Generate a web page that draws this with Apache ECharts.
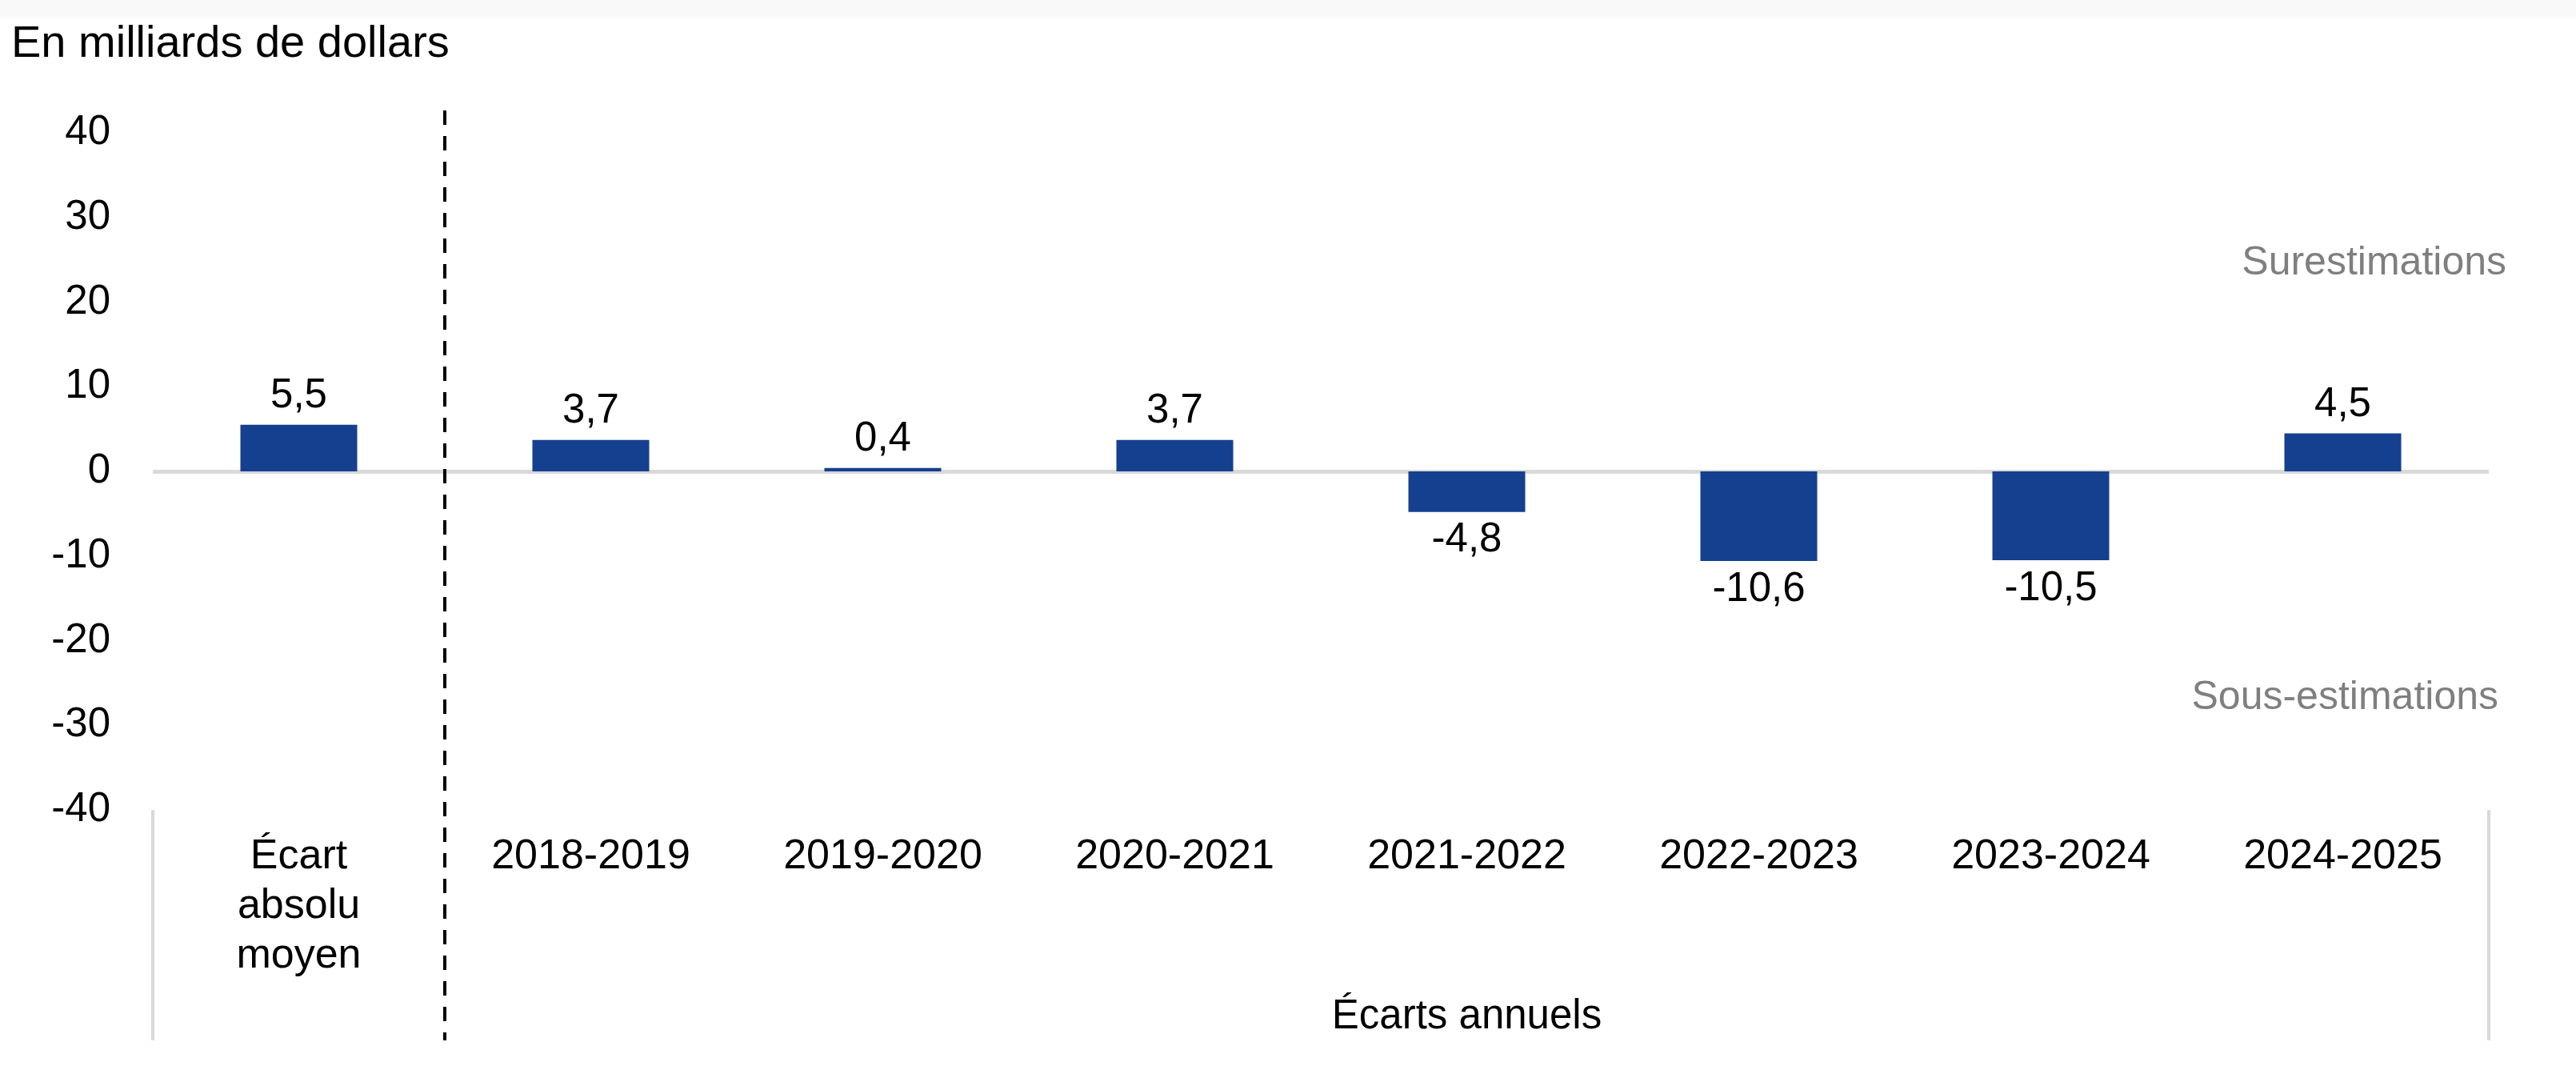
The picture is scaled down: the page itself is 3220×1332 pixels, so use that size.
<!DOCTYPE html>
<html>
<head>
<meta charset="utf-8">
<script src="https://cdn.jsdelivr.net/npm/echarts@6/dist/echarts.min.js"></script>
<style>
html,body{margin:0;padding:0;background:#fff;}
#chart{width:3220px;height:1332px;}
</style>
</head>
<body>
<div id="chart"></div>
<script>
// ---- data ----
const categories = ['Écart\nabsolu\nmoyen', '2018-2019', '2019-2020', '2020-2021', '2021-2022', '2022-2023', '2023-2024', '2024-2025'];
const values = [5.5, 3.7, 0.4, 3.7, -4.8, -10.6, -10.5, 4.5];
const yTicks = { min: -40, max: 40, interval: 10 };
const titleText = 'En milliards de dollars';
const groupLabel = 'Écarts annuels';
const overLabel = 'Surestimations';
const underLabel = 'Sous-estimations';

const FONT = '"Liberation Sans", Arial, Helvetica, sans-serif';
const BAR = '#15408F';
const GRAY = '#d9d9d9';

const chart = echarts.init(document.getElementById('chart'), null, { renderer: 'canvas' });

const option = {
  backgroundColor: '#ffffff',
  animation: false,
  title: {
    text: titleText,
    left: 14, top: 28, padding: 0,
    textStyle: { fontFamily: FONT, fontSize: 56, fontWeight: 'normal', color: '#000' }
  },
  grid: { left: 191, right: 109, top: 166, bottom: 320, containLabel: false },
  xAxis: {
    type: 'category',
    data: categories,
    axisLine: { show: false, onZero: false },
    axisTick: { show: false },
    axisLabel: {
      color: '#000', fontFamily: FONT, fontSize: 52, lineHeight: 62,
      margin: 28, interval: 0, verticalAlign: 'top'
    },
    splitLine: { show: false }
  },
  yAxis: {
    type: 'value',
    min: yTicks.min, max: yTicks.max, interval: yTicks.interval,
    axisLine: { show: false },
    axisTick: { show: false },
    splitLine: { show: false },
    axisLabel: { color: '#000', fontFamily: FONT, fontSize: 51, margin: 53 }
  },
  series: [{
    type: 'bar',
    data: values.map(v => ({ value: v, label: { position: v < 0 ? 'bottom' : 'top' } })),
    barWidth: '40%',
    itemStyle: { color: BAR },
    label: {
      show: true,
      position: 'top',
      distance: 10,
      color: '#000', fontFamily: FONT, fontSize: 51,
      formatter: p => String(p.value).replace('.', ',')
    },
    markLine: {
      silent: true,
      symbol: 'none',
      label: { show: false },
      lineStyle: { color: GRAY, width: 5, type: 'solid' },
      data: [{ yAxis: 0 }],
      z: 1
    },
    z: 3
  }]
};

chart.setOption(option);

// ---- decorations computed from the axes ----
function px(idx, val) { return chart.convertToPixel({ gridIndex: 0 }, [idx, val]); }
const c0 = px(0, 0)[0];
const c1 = px(1, 0)[0];
const band = c1 - c0;
const n = categories.length;
const leftX = c0 - band / 2;
const divX = c0 + band / 2;
const rightX = px(n - 1, 0)[0] + band / 2;
const yTop = px(0, yTicks.max)[1];
const yBot = px(0, yTicks.min)[1];
const lowY = yBot + 288;

const graphics = [
  { type: 'rect', shape: { x: 0, y: 0, width: 3220, height: 22 }, style: { fill: '#f9f9f9' }, z: 0, silent: true },
  { type: 'line', shape: { x1: leftX, y1: yBot, x2: leftX, y2: lowY }, style: { stroke: GRAY, lineWidth: 4 }, silent: true },
  { type: 'line', shape: { x1: rightX, y1: yBot, x2: rightX, y2: lowY }, style: { stroke: GRAY, lineWidth: 4 }, silent: true },
  { type: 'line', shape: { x1: divX, y1: yTop - 28, x2: divX, y2: lowY }, style: { stroke: '#000', lineWidth: 4, lineDash: [18, 14] }, silent: true, z: 10 },
  { type: 'text', x: (divX + rightX) / 2, y: yBot + 259, style: { text: groupLabel, fill: '#000', font: '51px ' + FONT, textAlign: 'center', textVerticalAlign: 'middle' }, silent: true },
  { type: 'text', x: rightX + 22, y: px(0, 24.6)[1], style: { text: overLabel, fill: '#7f7f7f', font: '50px ' + FONT, textAlign: 'right', textVerticalAlign: 'middle' }, silent: true },
  { type: 'text', x: rightX + 12, y: px(0, -26.8)[1], style: { text: underLabel, fill: '#7f7f7f', font: '50px ' + FONT, textAlign: 'right', textVerticalAlign: 'middle' }, silent: true }
];
chart.setOption({ graphic: graphics });
</script>
</body>
</html>
